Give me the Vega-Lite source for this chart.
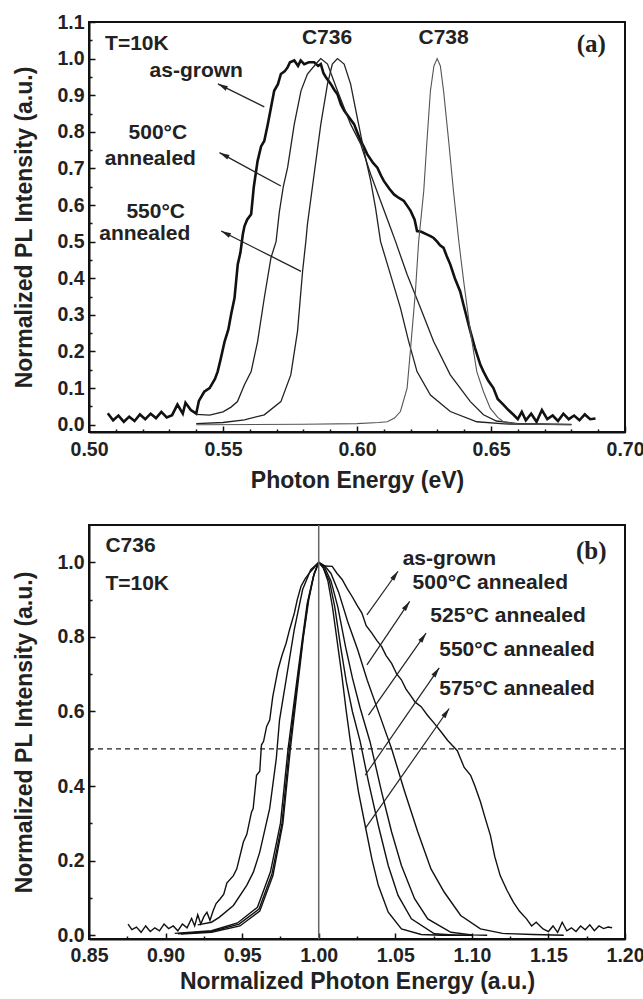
{
  "$schema": "https://vega.github.io/schema/vega-lite/v6.json",
  "padding": {"left": 12, "top": 11, "right": 0, "bottom": 2},
  "background": "white",
  "spacing": 29,
  "config": {
    "view": {"stroke": "#111", "strokeWidth": 2},
    "font": "Liberation Sans",
    "axis": {
      "domainColor": "#111", "domainWidth": 2, "tickColor": "#111", "tickWidth": 1.5, "tickSize": -6,
      "grid": false, "labelFont": "Liberation Sans", "labelFontWeight": "bold", "labelFontSize": 19.5,
      "labelColor": "#222", "titleFont": "Liberation Sans", "titleFontWeight": "bold", "titleFontSize": 23,
      "titleColor": "#222", "labelFlush": false, "labelOverlap": false
    }
  },
  "datasets": {
    "a_asgrown": [
      {"e":0.507,"i":0.031},{"e":0.509,"i":0.012},{"e":0.511,"i":0.025},{"e":0.513,"i":0.008},{"e":0.515,"i":0.022},{"e":0.517,"i":0.010},{"e":0.519,"i":0.028},{"e":0.521,"i":0.015},{"e":0.523,"i":0.030},{"e":0.525,"i":0.018},{"e":0.527,"i":0.035},{"e":0.529,"i":0.020},{"e":0.531,"i":0.026},{"e":0.533,"i":0.055},{"e":0.535,"i":0.030},{"e":0.536,"i":0.060},{"e":0.538,"i":0.040},{"e":0.540,"i":0.030},{"e":0.541,"i":0.065},{"e":0.543,"i":0.090},{"e":0.545,"i":0.100},{"e":0.547,"i":0.125},{"e":0.548,"i":0.145},{"e":0.549,"i":0.175},{"e":0.5506,"i":0.227},{"e":0.552,"i":0.26},{"e":0.553,"i":0.30},{"e":0.5543,"i":0.346},{"e":0.5555,"i":0.438},{"e":0.5565,"i":0.47},{"e":0.5574,"i":0.52},{"e":0.558,"i":0.542},{"e":0.559,"i":0.56},{"e":0.5605,"i":0.575},{"e":0.5615,"i":0.65},{"e":0.5629,"i":0.72},{"e":0.5642,"i":0.76},{"e":0.5654,"i":0.775},{"e":0.5667,"i":0.82},{"e":0.568,"i":0.87},{"e":0.5691,"i":0.912},{"e":0.5705,"i":0.93},{"e":0.5716,"i":0.958},{"e":0.573,"i":0.965},{"e":0.5741,"i":0.976},{"e":0.575,"i":0.99},{"e":0.5766,"i":0.995},{"e":0.578,"i":0.98},{"e":0.579,"i":0.995},{"e":0.5803,"i":0.985},{"e":0.582,"i":0.99},{"e":0.584,"i":0.99},{"e":0.5855,"i":0.98},{"e":0.5865,"i":0.985},{"e":0.5875,"i":0.96},{"e":0.5884,"i":0.949},{"e":0.5902,"i":0.931},{"e":0.5915,"i":0.915},{"e":0.5927,"i":0.903},{"e":0.594,"i":0.875},{"e":0.5952,"i":0.858},{"e":0.597,"i":0.84},{"e":0.5989,"i":0.821},{"e":0.600,"i":0.80},{"e":0.6014,"i":0.775},{"e":0.6025,"i":0.76},{"e":0.6038,"i":0.739},{"e":0.606,"i":0.715},{"e":0.6076,"i":0.702},{"e":0.609,"i":0.68},{"e":0.610,"i":0.666},{"e":0.612,"i":0.645},{"e":0.6138,"i":0.629},{"e":0.6155,"i":0.62},{"e":0.6175,"i":0.611},{"e":0.619,"i":0.595},{"e":0.620,"i":0.584},{"e":0.6215,"i":0.56},{"e":0.6224,"i":0.529},{"e":0.624,"i":0.527},{"e":0.626,"i":0.52},{"e":0.6274,"i":0.515},{"e":0.6286,"i":0.51},{"e":0.6299,"i":0.50},{"e":0.631,"i":0.49},{"e":0.6323,"i":0.483},{"e":0.6335,"i":0.46},{"e":0.6348,"i":0.438},{"e":0.6365,"i":0.40},{"e":0.6385,"i":0.364},{"e":0.640,"i":0.32},{"e":0.6423,"i":0.255},{"e":0.644,"i":0.21},{"e":0.646,"i":0.164},{"e":0.6472,"i":0.145},{"e":0.649,"i":0.12},{"e":0.6509,"i":0.10},{"e":0.6525,"i":0.07},{"e":0.6546,"i":0.055},{"e":0.6565,"i":0.04},{"e":0.6584,"i":0.027},{"e":0.660,"i":0.015},{"e":0.6615,"i":0.035},{"e":0.663,"i":0.012},{"e":0.665,"i":0.03},{"e":0.667,"i":0.008},{"e":0.669,"i":0.04},{"e":0.671,"i":0.015},{"e":0.673,"i":0.025},{"e":0.675,"i":0.010},{"e":0.677,"i":0.030},{"e":0.679,"i":0.015},{"e":0.681,"i":0.025},{"e":0.683,"i":0.012},{"e":0.685,"i":0.028},{"e":0.687,"i":0.015},{"e":0.689,"i":0.017}
    ],
    "a_annealed": [
      {"s":"500","e":0.540,"i":0.028},{"s":"500","e":0.545,"i":0.026},{"s":"500","e":0.550,"i":0.035},{"s":"500","e":0.553,"i":0.048},{"s":"500","e":0.5554,"i":0.063},{"s":"500","e":0.558,"i":0.109},{"s":"500","e":0.5605,"i":0.145},{"s":"500","e":0.5629,"i":0.227},{"s":"500","e":0.5654,"i":0.346},{"s":"500","e":0.5679,"i":0.456},{"s":"500","e":0.5698,"i":0.50},{"s":"500","e":0.571,"i":0.58},{"s":"500","e":0.5725,"i":0.65},{"s":"500","e":0.5741,"i":0.702},{"s":"500","e":0.5766,"i":0.821},{"s":"500","e":0.5791,"i":0.912},{"s":"500","e":0.5815,"i":0.958},{"s":"500","e":0.5852,"i":0.99},{"s":"500","e":0.5865,"i":1.0},{"s":"500","e":0.589,"i":0.985},{"s":"500","e":0.5927,"i":0.912},{"s":"500","e":0.5976,"i":0.821},{"s":"500","e":0.6014,"i":0.766},{"s":"500","e":0.6051,"i":0.684},{"s":"500","e":0.6088,"i":0.611},{"s":"500","e":0.6125,"i":0.538},{"s":"500","e":0.6144,"i":0.50},{"s":"500","e":0.6187,"i":0.41},{"s":"500","e":0.6237,"i":0.319},{"s":"500","e":0.6286,"i":0.227},{"s":"500","e":0.6348,"i":0.136},{"s":"500","e":0.6423,"i":0.063},{"s":"500","e":0.6472,"i":0.027},{"s":"500","e":0.652,"i":0.01},{"s":"500","e":0.66,"i":0.003},{"s":"500","e":0.68,"i":0.001},
      {"s":"550","e":0.540,"i":0.003},{"s":"550","e":0.550,"i":0.006},{"s":"550","e":0.558,"i":0.013},{"s":"550","e":0.5654,"i":0.027},{"s":"550","e":0.5716,"i":0.063},{"s":"550","e":0.5753,"i":0.136},{"s":"550","e":0.5778,"i":0.255},{"s":"550","e":0.5797,"i":0.419},{"s":"550","e":0.5809,"i":0.50},{"s":"550","e":0.5815,"i":0.547},{"s":"550","e":0.584,"i":0.684},{"s":"550","e":0.5865,"i":0.821},{"s":"550","e":0.589,"i":0.931},{"s":"550","e":0.5908,"i":0.985},{"s":"550","e":0.5927,"i":1.0},{"s":"550","e":0.5952,"i":0.985},{"s":"550","e":0.5976,"i":0.931},{"s":"550","e":0.6001,"i":0.839},{"s":"550","e":0.6026,"i":0.748},{"s":"550","e":0.6051,"i":0.666},{"s":"550","e":0.6069,"i":0.593},{"s":"550","e":0.6088,"i":0.50},{"s":"550","e":0.6125,"i":0.41},{"s":"550","e":0.6162,"i":0.319},{"s":"550","e":0.6193,"i":0.227},{"s":"550","e":0.6224,"i":0.145},{"s":"550","e":0.6274,"i":0.081},{"s":"550","e":0.6348,"i":0.036},{"s":"550","e":0.6447,"i":0.008},{"s":"550","e":0.655,"i":0.002},{"s":"550","e":0.68,"i":0.0}
    ],
    "a_c738": [
      {"e":0.540,"i":0.0},{"e":0.580,"i":0.001},{"e":0.600,"i":0.003},{"e":0.608,"i":0.006},{"e":0.6113,"i":0.008},{"e":0.614,"i":0.018},{"e":0.6162,"i":0.036},{"e":0.6187,"i":0.10},{"e":0.620,"i":0.209},{"e":0.6218,"i":0.364},{"e":0.623,"i":0.50},{"e":0.6249,"i":0.638},{"e":0.6261,"i":0.775},{"e":0.6274,"i":0.912},{"e":0.6287,"i":0.98},{"e":0.6299,"i":1.0},{"e":0.6311,"i":0.98},{"e":0.6323,"i":0.912},{"e":0.6342,"i":0.775},{"e":0.636,"i":0.638},{"e":0.638,"i":0.50},{"e":0.6398,"i":0.392},{"e":0.6423,"i":0.255},{"e":0.6447,"i":0.145},{"e":0.6472,"i":0.09},{"e":0.6497,"i":0.045},{"e":0.6525,"i":0.02},{"e":0.6546,"i":0.008},{"e":0.66,"i":0.002},{"e":0.68,"i":0.0}
    ],
    "a_text_c": [
      {"t":"as-grown","e":0.54,"i":0.967},{"t":"500°C","e":0.5257,"i":0.797},{"t":"annealed","e":0.5229,"i":0.727},{"t":"550°C","e":0.5249,"i":0.582},{"t":"annealed","e":0.5208,"i":0.520},{"t":"C736","e":0.5888,"i":1.055},{"t":"C738","e":0.6323,"i":1.055}
    ],
    "a_text_l": [{"t":"T=10K","e":0.506,"i":1.041}],
    "a_tag": [{"t":"(a)","e":0.6874,"i":1.041}],
    "a_arrows": [
      {"e":0.5654,"i":0.868,"e2":0.5481,"i2":0.931},
      {"e":0.5716,"i":0.652,"e2":0.5487,"i2":0.743},
      {"e":0.5791,"i":0.419,"e2":0.5493,"i2":0.529}
    ],
    "b_curves": [
      {"s":"as-grown","e":0.8755,"i":0.030},{"s":"as-grown","e":0.878,"i":0.015},{"s":"as-grown","e":0.881,"i":0.022},{"s":"as-grown","e":0.884,"i":0.008},{"s":"as-grown","e":0.887,"i":0.025},{"s":"as-grown","e":0.890,"i":0.010},{"s":"as-grown","e":0.893,"i":0.020},{"s":"as-grown","e":0.896,"i":0.012},{"s":"as-grown","e":0.899,"i":0.030},{"s":"as-grown","e":0.902,"i":0.018},{"s":"as-grown","e":0.905,"i":0.025},{"s":"as-grown","e":0.908,"i":0.012},{"s":"as-grown","e":0.911,"i":0.030},{"s":"as-grown","e":0.914,"i":0.020},{"s":"as-grown","e":0.917,"i":0.045},{"s":"as-grown","e":0.919,"i":0.025},{"s":"as-grown","e":0.921,"i":0.055},{"s":"as-grown","e":0.923,"i":0.030},{"s":"as-grown","e":0.925,"i":0.050},{"s":"as-grown","e":0.927,"i":0.062},{"s":"as-grown","e":0.929,"i":0.040},{"s":"as-grown","e":0.931,"i":0.065},{"s":"as-grown","e":0.933,"i":0.085},{"s":"as-grown","e":0.9357,"i":0.098},{"s":"as-grown","e":0.938,"i":0.11},{"s":"as-grown","e":0.940,"i":0.14},{"s":"as-grown","e":0.9443,"i":0.16},{"s":"as-grown","e":0.9465,"i":0.178},{"s":"as-grown","e":0.9508,"i":0.25},{"s":"as-grown","e":0.953,"i":0.27},{"s":"as-grown","e":0.9561,"i":0.33},{"s":"as-grown","e":0.9572,"i":0.34},{"s":"as-grown","e":0.9594,"i":0.429},{"s":"as-grown","e":0.9615,"i":0.44},{"s":"as-grown","e":0.9626,"i":0.51},{"s":"as-grown","e":0.964,"i":0.52},{"s":"as-grown","e":0.966,"i":0.56},{"s":"as-grown","e":0.968,"i":0.577},{"s":"as-grown","e":0.970,"i":0.64},{"s":"as-grown","e":0.9734,"i":0.712},{"s":"as-grown","e":0.976,"i":0.75},{"s":"as-grown","e":0.9787,"i":0.783},{"s":"as-grown","e":0.981,"i":0.82},{"s":"as-grown","e":0.9841,"i":0.864},{"s":"as-grown","e":0.986,"i":0.90},{"s":"as-grown","e":0.9884,"i":0.935},{"s":"as-grown","e":0.991,"i":0.955},{"s":"as-grown","e":0.9938,"i":0.971},{"s":"as-grown","e":0.997,"i":0.985},{"s":"as-grown","e":1.0,"i":1.0},{"s":"as-grown","e":1.004,"i":0.99},{"s":"as-grown","e":1.0088,"i":0.989},{"s":"as-grown","e":1.012,"i":0.97},{"s":"as-grown","e":1.0153,"i":0.954},{"s":"as-grown","e":1.0185,"i":0.93},{"s":"as-grown","e":1.0217,"i":0.909},{"s":"as-grown","e":1.025,"i":0.885},{"s":"as-grown","e":1.0282,"i":0.864},{"s":"as-grown","e":1.031,"i":0.83},{"s":"as-grown","e":1.0347,"i":0.81},{"s":"as-grown","e":1.038,"i":0.79},{"s":"as-grown","e":1.0411,"i":0.774},{"s":"as-grown","e":1.044,"i":0.75},{"s":"as-grown","e":1.0476,"i":0.729},{"s":"as-grown","e":1.051,"i":0.70},{"s":"as-grown","e":1.054,"i":0.685},{"s":"as-grown","e":1.057,"i":0.66},{"s":"as-grown","e":1.0605,"i":0.64},{"s":"as-grown","e":1.063,"i":0.625},{"s":"as-grown","e":1.0669,"i":0.613},{"s":"as-grown","e":1.071,"i":0.59},{"s":"as-grown","e":1.0755,"i":0.568},{"s":"as-grown","e":1.080,"i":0.545},{"s":"as-grown","e":1.0841,"i":0.523},{"s":"as-grown","e":1.087,"i":0.51},{"s":"as-grown","e":1.0905,"i":0.495},{"s":"as-grown","e":1.093,"i":0.47},{"s":"as-grown","e":1.095,"i":0.45},{"s":"as-grown","e":1.0992,"i":0.429},{"s":"as-grown","e":1.102,"i":0.40},{"s":"as-grown","e":1.1056,"i":0.358},{"s":"as-grown","e":1.109,"i":0.31},{"s":"as-grown","e":1.1121,"i":0.268},{"s":"as-grown","e":1.115,"i":0.21},{"s":"as-grown","e":1.1185,"i":0.16},{"s":"as-grown","e":1.123,"i":0.12},{"s":"as-grown","e":1.1271,"i":0.089},{"s":"as-grown","e":1.131,"i":0.065},{"s":"as-grown","e":1.1357,"i":0.044},{"s":"as-grown","e":1.139,"i":0.025},{"s":"as-grown","e":1.142,"i":0.035},{"s":"as-grown","e":1.1465,"i":0.017},{"s":"as-grown","e":1.150,"i":0.010},{"s":"as-grown","e":1.153,"i":0.025},{"s":"as-grown","e":1.156,"i":0.008},{"s":"as-grown","e":1.159,"i":0.035},{"s":"as-grown","e":1.162,"i":0.012},{"s":"as-grown","e":1.165,"i":0.020},{"s":"as-grown","e":1.168,"i":0.010},{"s":"as-grown","e":1.171,"i":0.025},{"s":"as-grown","e":1.174,"i":0.015},{"s":"as-grown","e":1.177,"i":0.028},{"s":"as-grown","e":1.180,"i":0.012},{"s":"as-grown","e":1.183,"i":0.025},{"s":"as-grown","e":1.186,"i":0.018},{"s":"as-grown","e":1.189,"i":0.022},{"s":"as-grown","e":1.1916,"i":0.02},
      {"s":"500","e":0.921,"i":0.028},{"s":"500","e":0.930,"i":0.035},{"s":"500","e":0.935,"i":0.048},{"s":"500","e":0.9443,"i":0.08},{"s":"500","e":0.953,"i":0.134},{"s":"500","e":0.9574,"i":0.17},{"s":"500","e":0.9615,"i":0.223},{"s":"500","e":0.968,"i":0.34},{"s":"500","e":0.9723,"i":0.474},{"s":"500","e":0.9744,"i":0.577},{"s":"500","e":0.9787,"i":0.685},{"s":"500","e":0.984,"i":0.819},{"s":"500","e":0.9895,"i":0.927},{"s":"500","e":0.9948,"i":0.98},{"s":"500","e":1.0,"i":1.0},{"s":"500","e":1.004,"i":0.99},{"s":"500","e":1.008,"i":0.97},{"s":"500","e":1.013,"i":0.92},{"s":"500","e":1.019,"i":0.84},{"s":"500","e":1.0254,"i":0.766},{"s":"500","e":1.0317,"i":0.684},{"s":"500","e":1.038,"i":0.611},{"s":"500","e":1.0443,"i":0.538},{"s":"500","e":1.0476,"i":0.50},{"s":"500","e":1.0562,"i":0.384},{"s":"500","e":1.0647,"i":0.277},{"s":"500","e":1.0733,"i":0.178},{"s":"500","e":1.0819,"i":0.116},{"s":"500","e":1.0927,"i":0.053},{"s":"500","e":1.1056,"i":0.017},{"s":"500","e":1.12,"i":0.005},{"s":"500","e":1.14,"i":0.002},{"s":"500","e":1.16,"i":0.0},
      {"s":"525","e":0.906,"i":0.005},{"s":"525","e":0.93,"i":0.012},{"s":"525","e":0.947,"i":0.033},{"s":"525","e":0.96,"i":0.075},{"s":"525","e":0.9685,"i":0.17},{"s":"525","e":0.975,"i":0.30},{"s":"525","e":0.98,"i":0.50},{"s":"525","e":0.985,"i":0.66},{"s":"525","e":0.989,"i":0.785},{"s":"525","e":0.9925,"i":0.89},{"s":"525","e":0.9965,"i":0.962},{"s":"525","e":1.0,"i":1.0},{"s":"525","e":1.004,"i":0.985},{"s":"525","e":1.008,"i":0.95},{"s":"525","e":1.0125,"i":0.88},{"s":"525","e":1.0175,"i":0.774},{"s":"525","e":1.022,"i":0.69},{"s":"525","e":1.027,"i":0.61},{"s":"525","e":1.0335,"i":0.519},{"s":"525","e":1.0411,"i":0.384},{"s":"525","e":1.0476,"i":0.277},{"s":"525","e":1.054,"i":0.187},{"s":"525","e":1.0626,"i":0.098},{"s":"525","e":1.0712,"i":0.044},{"s":"525","e":1.0863,"i":0.008},{"s":"525","e":1.10,"i":0.001},{"s":"525","e":1.11,"i":0.0},
      {"s":"550","e":0.908,"i":0.004},{"s":"550","e":0.93,"i":0.01},{"s":"550","e":0.948,"i":0.03},{"s":"550","e":0.961,"i":0.07},{"s":"550","e":0.9695,"i":0.165},{"s":"550","e":0.976,"i":0.30},{"s":"550","e":0.9808,"i":0.50},{"s":"550","e":0.9855,"i":0.66},{"s":"550","e":0.9895,"i":0.79},{"s":"550","e":0.993,"i":0.895},{"s":"550","e":0.9968,"i":0.965},{"s":"550","e":1.0,"i":1.0},{"s":"550","e":1.003,"i":0.985},{"s":"550","e":1.007,"i":0.95},{"s":"550","e":1.0105,"i":0.88},{"s":"550","e":1.0143,"i":0.774},{"s":"550","e":1.018,"i":0.68},{"s":"550","e":1.022,"i":0.60},{"s":"550","e":1.0271,"i":0.519},{"s":"550","e":1.0325,"i":0.411},{"s":"550","e":1.0389,"i":0.295},{"s":"550","e":1.0454,"i":0.187},{"s":"550","e":1.0518,"i":0.107},{"s":"550","e":1.0605,"i":0.044},{"s":"550","e":1.0755,"i":0.004},{"s":"550","e":1.09,"i":0.0},{"s":"550","e":1.10,"i":0.0},
      {"s":"575","e":0.910,"i":0.003},{"s":"575","e":0.93,"i":0.008},{"s":"575","e":0.9486,"i":0.025},{"s":"575","e":0.9615,"i":0.065},{"s":"575","e":0.9701,"i":0.16},{"s":"575","e":0.9766,"i":0.30},{"s":"575","e":0.9815,"i":0.50},{"s":"575","e":0.986,"i":0.66},{"s":"575","e":0.990,"i":0.80},{"s":"575","e":0.9935,"i":0.90},{"s":"575","e":0.997,"i":0.97},{"s":"575","e":1.0,"i":1.0},{"s":"575","e":1.003,"i":0.985},{"s":"575","e":1.006,"i":0.95},{"s":"575","e":1.009,"i":0.88},{"s":"575","e":1.012,"i":0.79},{"s":"575","e":1.015,"i":0.70},{"s":"575","e":1.018,"i":0.60},{"s":"575","e":1.0207,"i":0.519},{"s":"575","e":1.026,"i":0.384},{"s":"575","e":1.0303,"i":0.295},{"s":"575","e":1.0347,"i":0.205},{"s":"575","e":1.0389,"i":0.134},{"s":"575","e":1.0454,"i":0.062},{"s":"575","e":1.054,"i":0.017},{"s":"575","e":1.0669,"i":0.002},{"s":"575","e":1.08,"i":0.0},{"s":"575","e":1.10,"i":0.0}
    ],
    "b_text_l": [
      {"t":"C736","e":0.8607,"i":1.043},{"t":"T=10K","e":0.8607,"i":0.941},{"t":"as-grown","e":1.0548,"i":1.008},{"t":"500°C annealed","e":1.0613,"i":0.944},{"t":"525°C annealed","e":1.0729,"i":0.855},{"t":"550°C annealed","e":1.0787,"i":0.766},{"t":"575°C annealed","e":1.0787,"i":0.659}
    ],
    "b_tag": [{"t":"(b)","e":1.178,"i":1.03}],
    "b_arrows": [
      {"e":1.0315,"i":0.859,"e2":1.0518,"i2":0.976},
      {"e":1.0315,"i":0.725,"e2":1.0594,"i2":0.895},
      {"e":1.0325,"i":0.59,"e2":1.0701,"i2":0.81},
      {"e":1.0303,"i":0.429,"e2":1.0787,"i2":0.717},
      {"e":1.0303,"i":0.286,"e2":1.0852,"i2":0.608}
    ],
    "b_vline": [{"e":1.0}],
    "b_hline": [{"i":0.5}]
  },
  "vconcat": [
    {
      "width": 536,
      "height": 410,
      "resolve": {"axis": {"x": "independent", "y": "independent"}},
      "layer": [
        {
          "data": {"name": "a_asgrown"},
          "mark": {"type": "line", "color": "#111", "strokeWidth": 2.6},
          "encoding": {
            "x": {"field": "e", "type": "quantitative", "scale": {"domain": [0.5, 0.7], "nice": false, "zero": false},
                  "axis": {"orient": "bottom", "values": [0.5, 0.55, 0.6, 0.65, 0.7], "format": ".2f", "title": "Photon Energy (eV)", "labelPadding": 14, "titlePadding": 11}},
            "y": {"field": "i", "type": "quantitative", "scale": {"domain": [-0.02, 1.1], "nice": false, "zero": false},
                  "axis": {"orient": "left", "values": [0, 0.1, 0.2, 0.3, 0.4, 0.5, 0.6, 0.7, 0.8, 0.9, 1.0, 1.1], "format": ".1f", "title": "Normalized PL Intensity (a.u.)", "labelPadding": 11, "titlePadding": 20}}
          }
        },
        {
          "data": {"name": "a_annealed"},
          "mark": {"type": "line", "color": "#222", "strokeWidth": 1.3},
          "encoding": {
            "detail": {"field": "s"},
            "x": {"field": "e", "type": "quantitative",
                  "axis": {"orient": "bottom", "values": [0.51, 0.52, 0.53, 0.54, 0.56, 0.57, 0.58, 0.59, 0.61, 0.62, 0.63, 0.64, 0.66, 0.67, 0.68, 0.69], "labels": false, "title": null, "domain": false, "tickSize": -3}},
            "y": {"field": "i", "type": "quantitative",
                  "axis": {"orient": "left", "values": [0.05, 0.15, 0.25, 0.35, 0.45, 0.55, 0.65, 0.75, 0.85, 0.95, 1.05], "labels": false, "title": null, "domain": false, "tickSize": -3}}
          }
        },
        {
          "data": {"name": "a_c738"},
          "mark": {"type": "line", "color": "#555", "strokeWidth": 1.1},
          "encoding": {
            "x": {"field": "e", "type": "quantitative", "axis": null},
            "y": {"field": "i", "type": "quantitative", "axis": null}
          }
        },
        {
          "data": {"name": "a_arrows"},
          "mark": {"type": "rule", "color": "#222", "strokeWidth": 1.3},
          "encoding": {
            "x": {"field": "e", "type": "quantitative", "axis": null},
            "y": {"field": "i", "type": "quantitative", "axis": null},
            "x2": {"field": "e2"},
            "y2": {"field": "i2"}
          }
        },
        {
          "data": {"name": "a_arrows"},
          "mark": {"type": "point", "shape": "M0,0L0.5,2L-0.5,2Z", "filled": true, "color": "#222", "opacity": 1, "size": 100, "angle": 297},
          "encoding": {
            "x": {"field": "e2", "type": "quantitative", "axis": null},
            "y": {"field": "i2", "type": "quantitative", "axis": null}
          }
        },
        {
          "data": {"name": "a_text_c"},
          "mark": {"type": "text", "align": "center", "baseline": "middle", "font": "Liberation Sans", "fontWeight": "bold", "fontSize": 21, "color": "#222"},
          "encoding": {
            "x": {"field": "e", "type": "quantitative", "axis": null},
            "y": {"field": "i", "type": "quantitative", "axis": null},
            "text": {"field": "t"}
          }
        },
        {
          "data": {"name": "a_text_l"},
          "mark": {"type": "text", "align": "left", "baseline": "middle", "font": "Liberation Sans", "fontWeight": "bold", "fontSize": 21, "color": "#222"},
          "encoding": {
            "x": {"field": "e", "type": "quantitative", "axis": null},
            "y": {"field": "i", "type": "quantitative", "axis": null},
            "text": {"field": "t"}
          }
        },
        {
          "data": {"name": "a_tag"},
          "mark": {"type": "text", "align": "center", "baseline": "middle", "font": "Liberation Serif", "fontWeight": "bold", "fontSize": 25, "color": "#222"},
          "encoding": {
            "x": {"field": "e", "type": "quantitative", "axis": null},
            "y": {"field": "i", "type": "quantitative", "axis": null},
            "text": {"field": "t"}
          }
        }
      ]
    },
    {
      "width": 536,
      "height": 414,
      "resolve": {"axis": {"x": "independent", "y": "independent"}},
      "layer": [
        {
          "data": {"name": "b_curves"},
          "mark": {"type": "line", "color": "#111", "strokeWidth": 1.4},
          "encoding": {
            "detail": {"field": "s"},
            "x": {"field": "e", "type": "quantitative", "scale": {"domain": [0.85, 1.2], "nice": false, "zero": false},
                  "axis": {"orient": "bottom", "values": [0.85, 0.9, 0.95, 1.0, 1.05, 1.1, 1.15, 1.2], "format": ".2f", "title": "Normalized Photon Energy (a.u.)", "labelPadding": 13, "titlePadding": 6}},
            "y": {"field": "i", "type": "quantitative", "scale": {"domain": [-0.01, 1.1], "nice": false, "zero": false},
                  "axis": {"orient": "left", "values": [0, 0.2, 0.4, 0.6, 0.8, 1.0], "format": ".1f", "title": "Normalized PL Intensity (a.u.)", "labelPadding": 11, "titlePadding": 20}}
          }
        },
        {
          "data": {"name": "b_vline"},
          "mark": {"type": "rule", "color": "#666", "strokeWidth": 1.5},
          "encoding": {
            "x": {"field": "e", "type": "quantitative",
                  "axis": {"orient": "bottom", "values": [0.875, 0.925, 0.975, 1.025, 1.075, 1.125, 1.175], "labels": false, "title": null, "domain": false, "tickSize": -3}}
          }
        },
        {
          "data": {"name": "b_hline"},
          "mark": {"type": "rule", "color": "#222", "strokeWidth": 1.2, "strokeDash": [5, 4]},
          "encoding": {
            "y": {"field": "i", "type": "quantitative",
                  "axis": {"orient": "left", "values": [0.1, 0.3, 0.5, 0.7, 0.9], "labels": false, "title": null, "domain": false, "tickSize": -3}}
          }
        },
        {
          "data": {"name": "b_arrows"},
          "mark": {"type": "rule", "color": "#222", "strokeWidth": 1.2},
          "encoding": {
            "x": {"field": "e", "type": "quantitative", "axis": null},
            "y": {"field": "i", "type": "quantitative", "axis": null},
            "x2": {"field": "e2"},
            "y2": {"field": "i2"}
          }
        },
        {
          "data": {"name": "b_arrows"},
          "mark": {"type": "point", "shape": "M0,0L0.5,2L-0.5,2Z", "filled": true, "color": "#222", "opacity": 1, "size": 100, "angle": 35},
          "encoding": {
            "x": {"field": "e2", "type": "quantitative", "axis": null},
            "y": {"field": "i2", "type": "quantitative", "axis": null}
          }
        },
        {
          "data": {"name": "b_text_l"},
          "mark": {"type": "text", "align": "left", "baseline": "middle", "font": "Liberation Sans", "fontWeight": "bold", "fontSize": 21, "color": "#222"},
          "encoding": {
            "x": {"field": "e", "type": "quantitative", "axis": null},
            "y": {"field": "i", "type": "quantitative", "axis": null},
            "text": {"field": "t"}
          }
        },
        {
          "data": {"name": "b_tag"},
          "mark": {"type": "text", "align": "center", "baseline": "middle", "font": "Liberation Serif", "fontWeight": "bold", "fontSize": 25, "color": "#222"},
          "encoding": {
            "x": {"field": "e", "type": "quantitative", "axis": null},
            "y": {"field": "i", "type": "quantitative", "axis": null},
            "text": {"field": "t"}
          }
        }
      ]
    }
  ]
}
